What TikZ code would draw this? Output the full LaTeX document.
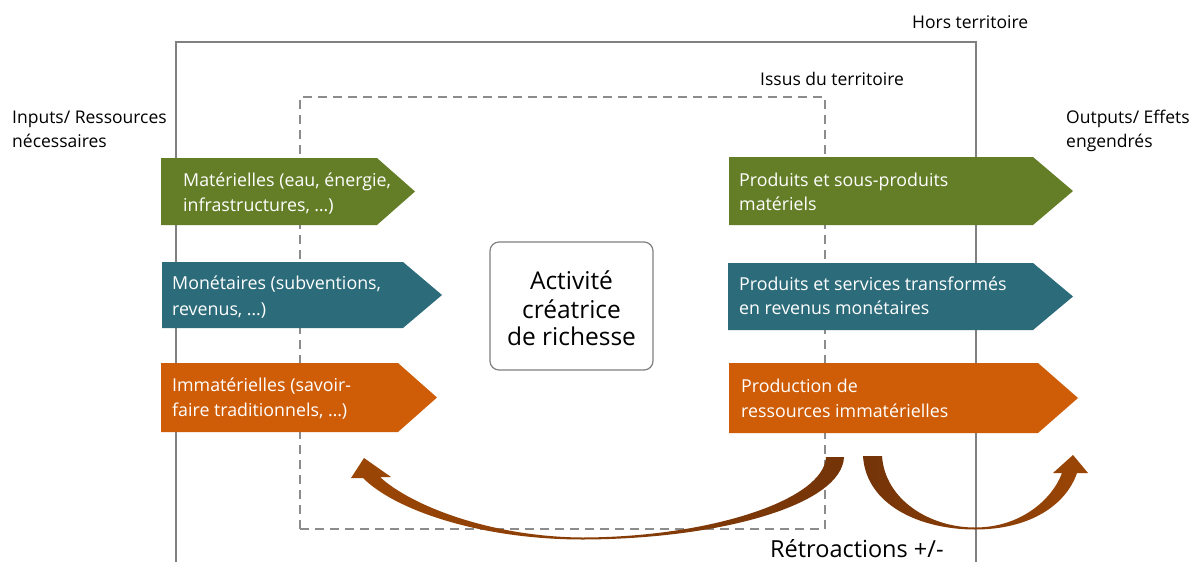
\documentclass[tikz,border=0pt]{standalone}
\usepackage{fontspec}
\setmainfont{Open Sans}
\definecolor{cgreen}{RGB}{100,126,40}
\definecolor{cteal}{RGB}{44,107,122}
\definecolor{corange}{RGB}{207,93,8}
\definecolor{cframe}{RGB}{128,128,128}
\definecolor{cdash}{RGB}{140,140,140}
\definecolor{bdark}{RGB}{116,52,8}
\definecolor{blight}{RGB}{155,70,6}
\begin{document}
\begin{tikzpicture}[x=1pt,y=-1pt,
  lbl/.style={anchor=base west,inner sep=0pt,font=\fontsize{17.5}{20}\selectfont,text=black},
  intext/.style={anchor=base west,inner sep=0pt,font=\fontsize{17.8}{20}\selectfont,text=white},
  frameline/.style={draw=cframe,line width=1.4pt},
  dashline/.style={draw=cdash,line width=1.4pt,dash pattern=on 9pt off 6pt},
  bigtext/.style={anchor=base,inner sep=0pt,font=\fontsize{24.5}{28}\selectfont},
]
\useasboundingbox (0,0) rectangle (1193,562);
\fill[white] (0,0) rectangle (1193,562);

% frames
\draw[frameline] (176,562) -- (176,42) -- (976,42) -- (976,562);
\draw[dashline] (300,529) -- (300,97) -- (825,97) -- (825,529) -- cycle;

\node[lbl] (hors) at (912,28) {Hors territoire};
\node[lbl] (issus) at (760,85) {Issus du territoire};
\node[lbl] (in1) at (12,123) {Inputs/ Ressources};
\node[lbl] (in2) at (12,147) {nécessaires};
\node[lbl] (out1) at (1066,123) {Outputs/ Effets};
\node[lbl] (out2) at (1066,147) {engendrés};

% left arrows
\fill[cgreen] (161,158) -- (377,158) -- (415,191.5) -- (377,225) -- (161,225) -- cycle;
\fill[cteal] (162,262) -- (403,262) -- (442,295) -- (403,328) -- (162,328) -- cycle;
\fill[corange] (161,363) -- (398,363) -- (437,397.5) -- (398,432) -- (161,432) -- cycle;
\node[intext] (l1a) at (183,186) {Matérielles (eau, énergie,};
\node[intext] (l1b) at (183,211) {infrastructures, …)};
\node[intext] (l2a) at (172,289) {Monétaires (subventions,};
\node[intext] (l2b) at (172,315) {revenus, …)};
\node[intext] (l3a) at (172,391) {Immatérielles (savoir-};
\node[intext] (l3b) at (172,416) {faire traditionnels, …)};

% right arrows
\fill[cgreen] (729,157) -- (1033,157) -- (1073,191) -- (1033,225) -- (729,225) -- cycle;
\fill[cteal] (728,263) -- (1033,263) -- (1073,296.5) -- (1033,330) -- (728,330) -- cycle;
\fill[corange] (729,363) -- (1038,363) -- (1078,398) -- (1038,433) -- (729,433) -- cycle;
\node[intext] (r1a) at (739,186) {Produits et sous-produits};
\node[intext] (r1b) at (739,210) {matériels};
\node[intext] (r2a) at (739,290) {Produits et services transformés};
\node[intext] (r2b) at (739,314) {en revenus monétaires};
\node[intext] (r3a) at (741,392) {Production de};
\node[intext] (r3b) at (741,417) {ressources immatérielles};

% central box
\node[draw=cframe,line width=1.2pt,rounded corners=9pt,minimum width=163pt,minimum height=128pt,inner sep=0pt] (act) at (571.5,306) {};
\node[bigtext] (act1) at (571.5,289) {Activité};
\node[bigtext] (act2) at (571.5,318) {créatrice};
\node[bigtext] (act3) at (571.5,345) {de richesse};

% feedback arrows
\shade[left color=blight,right color=bdark]
  (844,457) .. controls (842,505) and (720,539) .. (583,539.5)
  .. controls (480,539.5) and (395,510) .. (363,478)
  -- (351,478) -- (364,458) -- (391,477) -- (380,477)
  .. controls (410,505) and (490,537) .. (583,537.5)
  .. controls (710,537) and (824,500) .. (826,457) -- cycle;
\shade[left color=bdark,right color=blight]
  (863,456) .. controls (866,505) and (920,529.5) .. (975,529.5)
  .. controls (1030,529.5) and (1066,505) .. (1077,473)
  -- (1088,473) -- (1073,455) -- (1053,473) -- (1062,473)
  .. controls (1052,500) and (1020,527.5) .. (975,527.5)
  .. controls (930,527.5) and (885,500) .. (882,456) -- cycle;

\node[anchor=base west,inner sep=0pt,font=\fontsize{23.5}{26}\selectfont] (retro) at (770,557) {Rétroactions +/-};
\end{tikzpicture}
\end{document}
